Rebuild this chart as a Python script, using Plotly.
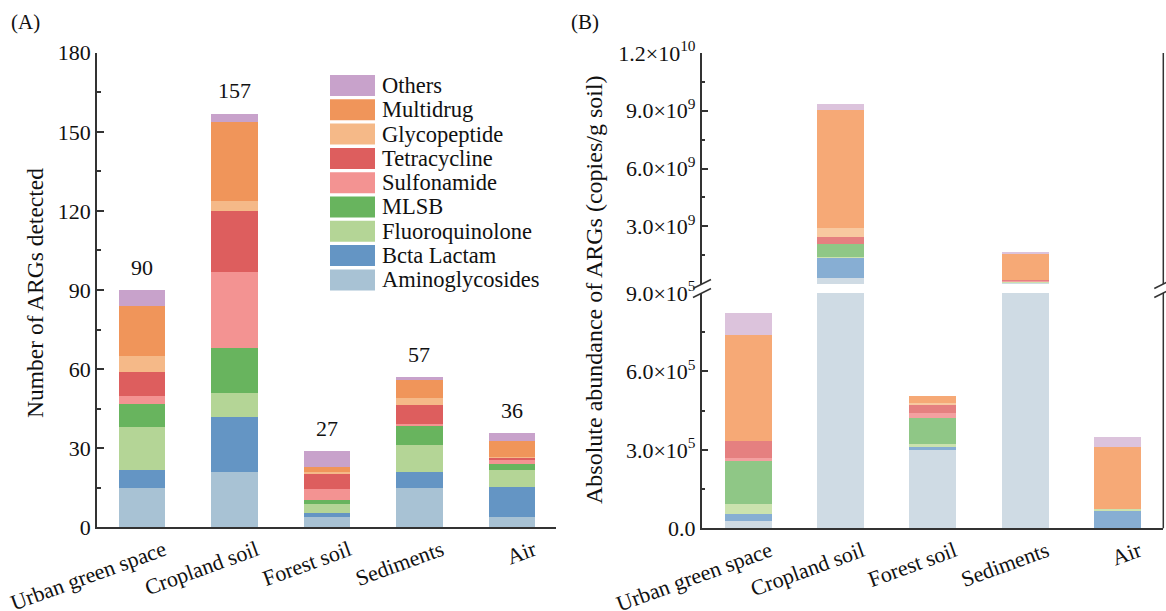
import plotly.graph_objects as go

W, H = 1166, 611
FONT = "Liberation Serif, Times New Roman, serif"

categories = ["Urban green space", "Cropland soil", "Forest soil", "Sediments", "Air"]
classes = ["Aminoglycosides", "Bcta Lactam", "Fluoroquinolone", "MLSB", "Sulfonamide",
           "Tetracycline", "Glycopeptide", "Multidrug", "Others"]

# ---- Panel A: number of ARGs detected ----
count_amino = [15, 21, 4, 15, 4]
count_beta = [7, 21, 1.5, 6, 11.5]
count_fluoro = [16, 9, 3.5, 10.5, 6.5]
count_mlsb = [9, 17, 1.5, 7, 2]
count_sulfo = [3, 29, 4, 0.8, 1.5]
count_tetra = [9, 23, 6, 7.2, 1]
count_glyco = [6, 4, 0.5, 2.5, 0.2]
count_multi = [19, 30, 2, 7, 6]
count_others = [6, 3, 6, 1, 3]
total_labels = ["90", "157", "27", "57", "36"]

# ---- Panel B: absolute abundance (copies/g soil) ----
abund_amino = [2.9e4, 3.1e8, 2.99e5, 8.0e7, 0]
abund_beta = [2.5e4, 1.09e9, 1.3e4, 2.0e7, 6.8e4]
abund_fluoro = [4.0e4, 2.0e7, 1.0e4, 1.0e7, 5e3]
abund_mlsb = [1.64e5, 6.6e8, 1.0e5, 4.0e7, 0]
abund_sulfo = [1.0e4, 1.0e7, 1.9e4, 2.0e7, 0]
abund_tetra = [6.7e4, 3.5e8, 3.2e4, 5.0e7, 0]
abund_glyco = [0, 4.7e8, 0.8e4, 0, 0]
abund_multi = [4.03e5, 6.14e9, 2.6e4, 1.38e9, 2.37e5]
abund_others = [8.4e4, 3.1e8, 0, 3.0e7, 3.8e4]

lower_ticks = [0, 3e5, 6e5, 9e5]
lower_ticktext = ["0.0", "3.0×10<sup>5</sup>", "6.0×10<sup>5</sup>", "9.0×10<sup>5</sup>"]
upper_ticks = [3e9, 6e9, 9e9, 1.2e10]
upper_ticktext = ["3.0×10<sup>9</sup>", "6.0×10<sup>9</sup>", "9.0×10<sup>9</sup>", "1.2×10<sup>10</sup>"]

colors_a = ["#a8c2d4", "#6495c4", "#b4d596", "#68b45e", "#f39392",
            "#dd5e5e", "#f5b988", "#f0955a", "#c8a2cb"]
colors_b = ["#cfdbe4", "#87aed3", "#cbe2ae", "#8fc786", "#f3a0a0",
            "#e58080", "#f8c9a0", "#f6a976", "#dcc3dc"]

counts = [count_amino, count_beta, count_fluoro, count_mlsb, count_sulfo,
          count_tetra, count_glyco, count_multi, count_others]
abunds = [abund_amino, abund_beta, abund_fluoro, abund_mlsb, abund_sulfo,
          abund_tetra, abund_glyco, abund_multi, abund_others]


def px(x):
    return x / W


def py(y):
    return 1 - y / H


fig = go.Figure()

for name, vals, col in zip(classes, counts, colors_a):
    fig.add_trace(go.Bar(x=categories, y=vals, name=name, marker_color=col,
                         marker_line_width=0, width=0.5, showlegend=False,
                         xaxis="x", yaxis="y"))
for name, vals, col in zip(classes, abunds, colors_b):
    fig.add_trace(go.Bar(x=categories, y=vals, name=name, marker_color=col,
                         marker_line_width=0, width=0.51, showlegend=False,
                         xaxis="x2", yaxis="y2"))
    fig.add_trace(go.Bar(x=categories, y=vals, name=name, marker_color=col,
                         marker_line_width=0, width=0.51, showlegend=False,
                         xaxis="x3", yaxis="y3"))

axis_line = dict(showline=True, linecolor="#333333", linewidth=1.5, showgrid=False,
                 zeroline=False, automargin=False)
tickfont = dict(family=FONT, size=22, color="#111111")

fig.update_layout(
    width=W, height=H, barmode="stack", bargap=0,
    margin=dict(l=0, r=0, t=0, b=0, autoexpand=False),
    plot_bgcolor="white", paper_bgcolor="white",
    font=dict(family=FONT, color="#111111"),
    xaxis=dict(domain=[px(97), px(556)], range=[-0.486, 4.476], anchor="y",
               ticks="", tickangle=-20, ticklabelshift=22, tickfont=tickfont, **axis_line),
    yaxis=dict(domain=[py(527.3), py(52.7)], range=[0, 180], anchor="x",
               tickvals=[0, 30, 60, 90, 120, 150, 180], ticks="inside", ticklen=7,
               tickcolor="#333333", tickwidth=1.5,
               minor=dict(tickvals=[15, 45, 75, 105, 135, 165], ticks="inside",
                          ticklen=4, tickcolor="#333333", tickwidth=1.5),
               tickfont=tickfont, **axis_line),
    xaxis2=dict(domain=[px(701.7), px(1163.3)], range=[-0.5, 4.5], anchor="y2",
                ticks="", tickangle=-20, ticklabelshift=22, tickfont=tickfont, **axis_line),
    yaxis2=dict(domain=[py(528.3), py(293)], range=[0, 9e5], anchor="x2",
                tickvals=lower_ticks, ticktext=lower_ticktext, ticks="inside", ticklen=7,
                tickcolor="#333333", tickwidth=1.5,
                minor=dict(tickvals=[1.5e5, 4.5e5, 7.5e5], ticks="inside",
                           ticklen=4, tickcolor="#333333", tickwidth=1.5),
                tickfont=tickfont, **axis_line),
    xaxis3=dict(domain=[px(701.7), px(1163.3)], range=[-0.5, 4.5], anchor="y3",
                matches="x2", visible=False, automargin=False),
    yaxis3=dict(domain=[py(284), py(53)], range=[9e5, 1.2e10], anchor="x3",
                tickvals=upper_ticks, ticktext=upper_ticktext, ticks="inside", ticklen=7,
                tickcolor="#333333", tickwidth=1.5,
                minor=dict(tickvals=[1.5e9, 4.5e9, 7.5e9, 1.05e10], ticks="inside",
                           ticklen=4, tickcolor="#333333", tickwidth=1.5),
                tickfont=tickfont, **axis_line),
)

annotations = []
shapes = []

# totals above panel A bars
for i, cat in enumerate(categories):
    tot = sum(c[i] for c in counts)
    annotations.append(dict(x=cat, y=tot, xref="x", yref="y", text=total_labels[i],
                            showarrow=False, yanchor="bottom", yshift=8,
                            font=dict(family=FONT, size=22, color="#111111")))

# panel letters
annotations.append(dict(x=px(9), y=py(22), xref="paper", yref="paper", text="(A)",
                        showarrow=False, xanchor="left", yanchor="middle",
                        font=dict(family=FONT, size=21, color="#111111")))
annotations.append(dict(x=px(569), y=py(22), xref="paper", yref="paper", text="(B)",
                        showarrow=False, xanchor="left", yanchor="middle",
                        font=dict(family=FONT, size=21, color="#111111")))

# y titles
annotations.append(dict(x=px(35), y=py(293), xref="paper", yref="paper",
                        text="Number of ARGs detected",
                        showarrow=False, textangle=-90, xanchor="center", yanchor="middle",
                        font=dict(family=FONT, size=23.5, color="#111111")))
annotations.append(dict(x=px(594), y=py(290), xref="paper", yref="paper",
                        text="Absolute abundance of ARGs (copies/g soil)",
                        showarrow=False, textangle=-90, xanchor="center", yanchor="middle",
                        font=dict(family=FONT, size=24, color="#111111")))

# manual legend (top to bottom: reversed class order)
leg_top = 75
pitch = 24.3
for k, idx in enumerate(range(len(classes) - 1, -1, -1)):
    y0 = leg_top + k * pitch
    shapes.append(dict(type="rect", xref="paper", yref="paper",
                       x0=px(330), x1=px(375), y0=py(y0), y1=py(y0 + 21),
                       fillcolor=colors_a[idx], line=dict(width=0)))
    annotations.append(dict(x=px(380), y=py(y0 + 10.5), xref="paper", yref="paper",
                            text=classes[idx], showarrow=False, xanchor="left",
                            yanchor="middle",
                            font=dict(family=FONT, size=22.5, color="#111111")))

# right-hand frame line of panel B (two segments, broken)
for ya, yb in ((53, 284), (293, 528.3)):
    shapes.append(dict(type="line", xref="paper", yref="paper",
                       x0=px(1163.3), x1=px(1163.3), y0=py(ya), y1=py(yb),
                       line=dict(color="#333333", width=1.5)))

# axis break marks
for xc in (702, 1163.3):
    for yc in (284, 293):
        shapes.append(dict(type="line", xref="paper", yref="paper",
                           x0=px(xc - 9), y0=py(yc + 4.5), x1=px(xc + 9), y1=py(yc - 4.5),
                           line=dict(color="#333333", width=1.5)))

fig.update_layout(annotations=annotations, shapes=shapes)
fig.write_html("out.html", config={"displayModeBar": False},
               post_script="document.body.style.margin='0';document.body.style.overflow='hidden';")
